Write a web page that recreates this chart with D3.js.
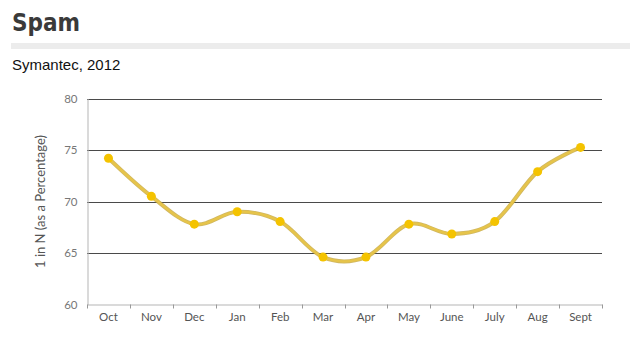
<!DOCTYPE html>
<html>
<head>
  <style>
    body, html { margin: 0; padding: 0; background: #fff; }
    svg { display: block; }
  </style>
</head>
<body>
  <svg id="svg" width="630" height="353"></svg>

  <script src="https://d3js.org/d3.v7.min.js"></script>
  <script>
    const months = ['Oct', 'Nov', 'Dec', 'Jan', 'Feb', 'Mar', 'Apr', 'May', 'June', 'July', 'Aug', 'Sept']
    const spam = [74.2, 70.5, 67.8, 69.0, 68.05, 64.6, 64.6, 67.8, 66.85, 68.05, 72.9, 75.25]
    const yTicks = [60, 65, 70, 75, 80]

    const plotLeft = 87, plotRight = 602, plotTop = 98.5, plotBottom = 304.5

    const svg = d3.select("#svg")

    // header
    svg.append("text")
      .attr("x", 12).attr("y", 31)
      .attr("font-family", "DejaVu Sans Condensed").attr("font-weight", "bold")
      .attr("font-size", 24).attr("fill", "#3a3a3a")
      .text("Spam")
    svg.append("rect")
      .attr("x", 11).attr("y", 43).attr("width", 619).attr("height", 6)
      .attr("fill", "#ececec")
    svg.append("text")
      .attr("x", 12).attr("y", 70)
      .attr("font-family", "Liberation Sans")
      .attr("font-size", 15).attr("fill", "#111")
      .text("Symantec, 2012")

    const x = d3.scaleBand().domain(months).range([plotLeft, plotRight])
    const y = d3.scaleLinear().domain([60, 80]).range([plotBottom, plotTop])

    // gridlines
    svg.append("g").selectAll("line")
      .data(yTicks.filter(d => d > 60))
      .join("line")
      .attr("x1", plotLeft).attr("x2", plotRight)
      .attr("y1", d => Math.round(y(d)) + 0.5).attr("y2", d => Math.round(y(d)) + 0.5)
      .attr("stroke", "#4a4a4a")

    // y axis
    const yAxis = svg.append("g")
      .attr("transform", `translate(${plotLeft + 0.5}, 0)`)
      .call(d3.axisLeft(y).tickValues(yTicks).tickSize(0).tickPadding(10))
    yAxis.select(".domain").attr("stroke", "#b5b5b5")
    yAxis.selectAll("text").attr("font-family", "Lato").attr("font-size", 11.5).attr("fill", "#777")

    // x axis
    const xAxis = svg.append("g")
      .attr("transform", `translate(0, ${plotBottom})`)
      .call(d3.axisBottom(x).tickSize(0).tickPadding(8))
    xAxis.select(".domain").attr("stroke", "#b5b5b5")
    xAxis.selectAll("text").attr("font-family", "Lato").attr("font-size", 11.5).attr("fill", "#555")
    xAxis.selectAll(".sep")
      .data(d3.range(months.length + 1))
      .join("line")
      .attr("class", "sep")
      .attr("x1", i => Math.round(plotLeft + i * x.step()) + 0.5)
      .attr("x2", i => Math.round(plotLeft + i * x.step()) + 0.5)
      .attr("y1", 0).attr("y2", 4)
      .attr("stroke", "#999")

    // y label
    svg.append("text")
      .attr("transform", `translate(45, ${(plotTop + plotBottom) / 2}) rotate(-90)`)
      .attr("text-anchor", "middle")
      .attr("font-family", "Lato").attr("font-size", 13).attr("fill", "#555")
      .text("1 in N (as a Percentage)")

    // line
    const line = d3.line()
      .x((d, i) => x(months[i]) + x.bandwidth() / 2)
      .y(d => y(d))
      .curve(d3.curveCatmullRom.alpha(0))

    svg.append("path")
      .attr("d", line(spam))
      .attr("fill", "none")
      .attr("stroke", "#c4a53a")
      .attr("stroke-width", 4)
      .attr("opacity", 0.8)
    svg.append("path")
      .attr("d", line(spam))
      .attr("fill", "none")
      .attr("stroke", "#e6c44a")
      .attr("stroke-width", 2.5)

    svg.append("g").selectAll("circle")
      .data(spam)
      .join("circle")
      .attr("cx", (d, i) => x(months[i]) + x.bandwidth() / 2)
      .attr("cy", d => y(d))
      .attr("r", 4.5)
      .attr("fill", "#f4c300")
  </script>
</body>
</html>
